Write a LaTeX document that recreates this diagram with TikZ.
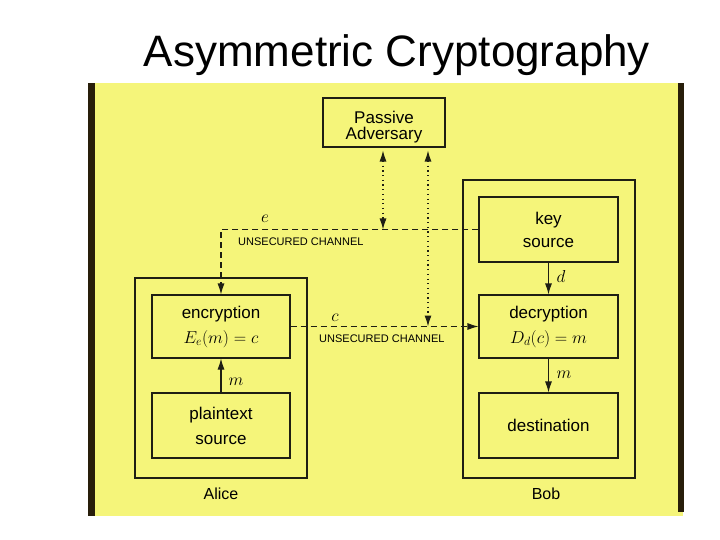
\documentclass[tikz,border=0pt]{standalone}
\usepackage{fontspec}
\setmainfont{Liberation Sans}
\usetikzlibrary{arrows.meta}
\definecolor{panel}{RGB}{245,245,122}
\definecolor{bar}{RGB}{40,30,10}
\definecolor{ink}{RGB}{30,30,20}
\begin{document}
\begin{tikzpicture}[x=1pt,y=-1pt,
 box/.style={draw=ink, line width=1.1pt, fill=panel, minimum width=139pt, minimum height=64pt, align=center, font=\fontsize{17}{25}\selectfont, inner sep=0pt},
 outerbox/.style={draw=ink, line width=1.1pt, inner sep=0pt},
 chan/.style={draw=ink, dash pattern=on 6pt off 4pt, line width=1.1pt, -{Latex[length=11pt,width=7pt]}},
 spy/.style={draw=ink, dash pattern=on 1.2pt off 3.5pt, line width=1.1pt, {Latex[length=11pt,width=7pt]}-{Latex[length=11pt,width=7pt]}},
 flow/.style={draw=ink, line width=1.1pt, -{Latex[length=11pt,width=7pt]}},
 lbl/.style={font=\fontsize{17}{17}\selectfont, inner sep=0pt},
 smalltxt/.style={font=\fontsize{11}{11}\selectfont, inner sep=0pt, anchor=west},
 personlbl/.style={font=\fontsize{16}{16}\selectfont, inner sep=0pt},
]
\useasboundingbox (0,0) rectangle (720,540);
\fill[white] (0,0) rectangle (720,540);
\fill[panel] (90,83) rectangle (683,516);
\fill[bar] (88,83) rectangle (95,516);
\fill[bar] (678,83) rectangle (684,512);

\node[anchor=base, inner sep=0pt, font=\fontsize{44}{44}\selectfont] (title) at (397,67) {Asymmetric Cryptography};

\node[outerbox, minimum width=172pt, minimum height=298pt] (bob) at (549,329) {};
\node[outerbox, minimum width=172pt, minimum height=200pt] (alice) at (221,378) {};

\node[box, minimum width=122pt, minimum height=49pt, font=\fontsize{17}{16}\selectfont, text depth=0pt] (adv) at (384,122.5) {\raisebox{2pt}{\parbox{100pt}{\centering Passive\\Adversary}}};
\node[box, minimum height=65pt, font=\fontsize{17}{23}\selectfont] (key) at (548.5,229.5) {key\\source};
\node[box, minimum height=63pt] (dec) at (548.5,326.5) {decryption\\$D_d(c)=m$};
\node[box, minimum height=65pt] (dest) at (548.5,425.5) {destination};
\node[box, minimum width=138pt, minimum height=63pt] (enc) at (221,326.5) {encryption\\$E_e(m)=c$};
\node[box, minimum width=138pt, minimum height=65pt] (plain) at (221,425.5) {plaintext\\source};

\node[personlbl] (alicel) at (221,494) {Alice};
\node[personlbl] (bobl) at (546,494) {Bob};

\draw[chan] (key.west) -| (enc.north);
\draw[chan] (enc.east) -- (dec.west);

\coordinate (s1) at (383,229.5);
\coordinate (s2) at (428,326.5);
\draw[spy, shorten <=3pt] (adv.south -| s1) -- (s1);
\draw[spy, shorten <=3pt] (adv.south -| s2) -- (s2);

\draw[flow] (key.south) -- (dec.north);
\draw[flow] (dec.south) -- (dest.north);
\draw[flow] (plain.north) -- (enc.south);

\node[lbl] (le) at (265,219) {$e$};
\node[smalltxt] (u1) at (238,242) {UNSECURED CHANNEL};
\node[lbl] (lc) at (335,318) {$c$};
\node[smalltxt] (u2) at (319,339) {UNSECURED CHANNEL};
\node[lbl] (ld) at (561,276) {$d$};
\node[lbl] (lm2) at (564,375) {$m$};
\node[lbl] (lm1) at (236,382) {$m$};
\end{tikzpicture}
\end{document}
